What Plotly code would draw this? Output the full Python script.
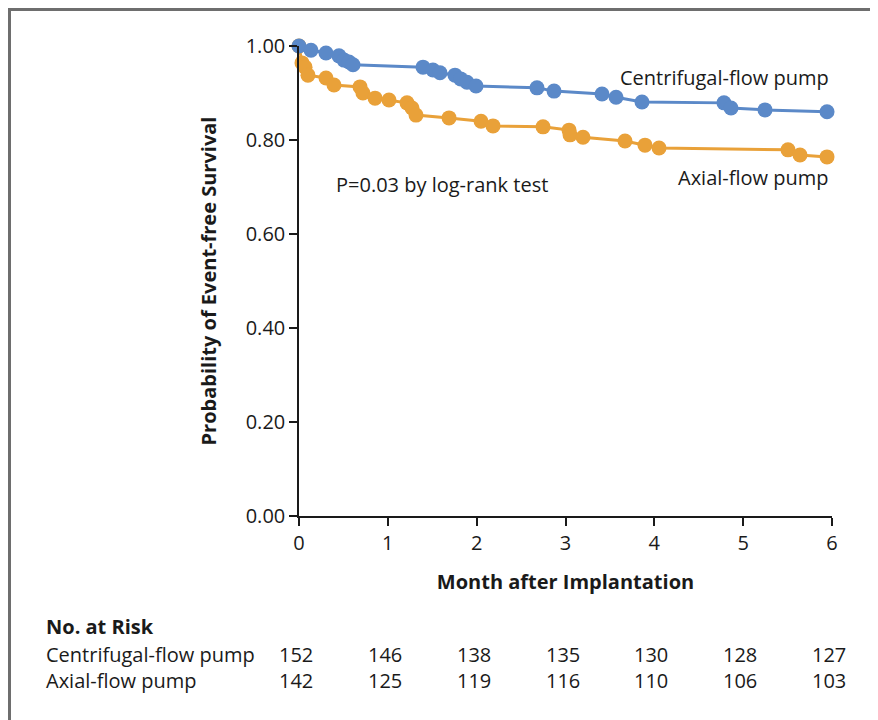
import plotly.graph_objects as go

# Centrifugal-flow pump (months, survival)
centri_month = [0, 0.135, 0.304, 0.450, 0.507, 0.563, 0.608, 1.396, 1.508, 1.587, 1.756, 1.82, 1.891, 1.993,
                2.679, 2.871, 3.411, 3.569, 3.861, 4.784, 4.863, 5.246, 5.944]
centri_surv = [1.000, 0.991, 0.985, 0.979, 0.970, 0.966, 0.960, 0.955, 0.949, 0.943, 0.938, 0.930, 0.923, 0.915,
               0.911, 0.904, 0.898, 0.891, 0.881, 0.879, 0.868, 0.864, 0.860]

# Axial-flow pump
axial_month = [0, 0.034, 0.068, 0.101, 0.304, 0.394, 0.687, 0.72, 0.856, 1.013, 1.216, 1.272, 1.317, 1.689,
               2.049, 2.184, 2.747, 3.04, 3.051, 3.197, 3.67, 3.895, 4.053, 5.505, 5.64, 5.944]
axial_surv = [1.000, 0.964, 0.955, 0.938, 0.932, 0.917, 0.913, 0.900, 0.889, 0.885, 0.879, 0.868, 0.853, 0.847,
              0.840, 0.830, 0.828, 0.821, 0.811, 0.806, 0.798, 0.789, 0.783, 0.779, 0.768, 0.764]

risk_months = [0, 1, 2, 3, 4, 5, 6]
risk_centri = [152, 146, 138, 135, 130, 128, 127]
risk_axial = [142, 125, 119, 116, 110, 106, 103]

y_ticks = [0, 0.2, 0.4, 0.6, 0.8, 1.0]
y_labels = ["0.00", "0.20", "0.40", "0.60", "0.80", "1.00"]

FONT = "Open Sans"
BLUE = "#5B89C8"
ORANGE = "#E9A139"
TXT = "#1a1a1a"

fig = go.Figure()
fig.add_trace(go.Scatter(x=axial_month, y=axial_surv, mode="lines+markers",
                         line=dict(color=ORANGE, width=3), marker=dict(color=ORANGE, size=15),
                         cliponaxis=False, showlegend=False))
fig.add_trace(go.Scatter(x=centri_month, y=centri_surv, mode="lines+markers",
                         line=dict(color=BLUE, width=3), marker=dict(color=BLUE, size=15),
                         cliponaxis=False, showlegend=False))

# page offset of the figure (default body margin)
OFF = 8
PL, PR, PT, PB = 299, 832, 46, 516   # plot area in page pixels
W, H = 878 - OFF, 720 - OFF
L, T = PL - OFF, PT - OFF
R, B = (OFF + W) - PR, (OFF + H) - PB
pw, ph = PR - PL, PB - PT

def px(x):
    return (x - PL) / pw

def py(y):
    return (PB - y) / ph

annots = [
    dict(x=px(831), y=py(77), text="Centrifugal-flow pump", xanchor="right", size=20),
    dict(x=px(831), y=py(178), text="Axial-flow pump", xanchor="right", size=20),
    dict(x=px(334), y=py(184), text="P=0.03 by log-rank test", xanchor="left", size=20),
    dict(x=px(44), y=py(626), text="<b>No. at Risk</b>", xanchor="left", size=20),
    dict(x=px(44), y=py(654), text="Centrifugal-flow pump", xanchor="left", size=20),
    dict(x=px(44), y=py(680), text="Axial-flow pump", xanchor="left", size=20),
]
annotations = []
for a in annots:
    annotations.append(dict(x=a["x"], y=a["y"], xref="paper", yref="paper", text=a["text"],
                            xanchor=a["xanchor"], yanchor="middle", showarrow=False,
                            font=dict(family=FONT, size=a["size"], color=TXT)))
for m, c, ax_ in zip(risk_months, risk_centri, risk_axial):
    annotations.append(dict(x=m, y=py(654), xref="x", yref="paper", text=str(c), showarrow=False,
                            xanchor="center", yanchor="middle", xshift=-3,
                            font=dict(family=FONT, size=20, color=TXT)))
    annotations.append(dict(x=m, y=py(680), xref="x", yref="paper", text=str(ax_), showarrow=False,
                            xanchor="center", yanchor="middle", xshift=-3,
                            font=dict(family=FONT, size=20, color=TXT)))

BX, BY = 9.5, 9.5
shapes = [
    dict(type="line", xref="paper", yref="paper", x0=px(BX - 1.5), x1=px(880), y0=py(BY), y1=py(BY),
         line=dict(color="#6E6E6E", width=3)),
    dict(type="line", xref="paper", yref="paper", x0=px(BX), x1=px(BX), y0=py(BY - 1.5), y1=py(722),
         line=dict(color="#6E6E6E", width=3)),
]

fig.update_layout(
    width=W, height=H,
    margin=dict(l=L, r=R, t=T, b=B, pad=0),
    paper_bgcolor="white", plot_bgcolor="white",
    font=dict(family=FONT, size=20, color=TXT),
    annotations=annotations,
    shapes=shapes,
    xaxis=dict(range=[0, 6], tickvals=risk_months, ticks="outside", ticklen=8, tickwidth=1.5,
               tickcolor=TXT, showline=True, linecolor=TXT, linewidth=1.5,
               showgrid=False, zeroline=False, tickfont=dict(size=20),
               title=dict(text="<b>Month after Implantation</b>", font=dict(size=20), standoff=20)),
    yaxis=dict(range=[0, 1], tickvals=y_ticks, ticktext=y_labels, ticks="outside", ticklen=8,
               tickwidth=1.5, tickcolor=TXT, showline=True, linecolor=TXT, linewidth=1.5,
               showgrid=False, zeroline=False, tickfont=dict(size=20),
               title=dict(text="<b>Probability of Event-free Survival</b>", font=dict(size=20), standoff=24)),
)

fig.write_html("out.html")
